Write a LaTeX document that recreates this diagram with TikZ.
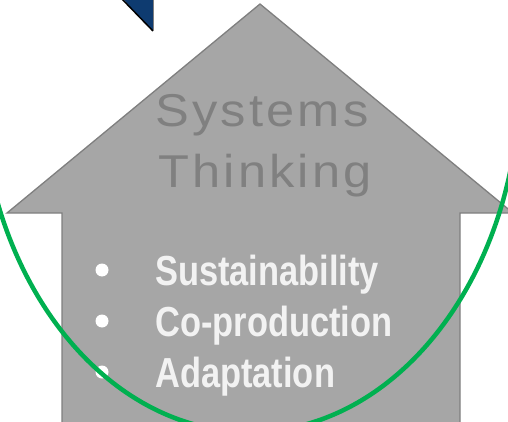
\documentclass[tikz,border=0pt]{standalone}
\usepackage{fontspec}
\setmainfont{Liberation Sans}
\newfontfamily\titlefont[LetterSpace=7,FakeStretch=1.1]{Liberation Sans}
\newfontfamily\bulfont[FakeStretch=0.82]{Liberation Sans}
\definecolor{housefill}{HTML}{A6A6A6}
\definecolor{houseline}{HTML}{7F7F7F}
\definecolor{titlegray}{HTML}{808080}
\definecolor{bultext}{HTML}{F2F2F2}
\definecolor{loopgreen}{HTML}{00B050}
\definecolor{navytri}{HTML}{0E3B70}
\tikzset{
  house/.style={fill=housefill,draw=houseline,line width=1.3pt,line join=miter},
  titletext/.style={text=titlegray,inner sep=0pt,font=\titlefont\fontsize{46}{54}\selectfont},
  bultextstyle/.style={text=bultext,inner sep=0pt,anchor=base west,font=\bulfont\bfseries\fontsize{42}{50}\selectfont},
  bulletdot/.style={circle,fill=white,minimum size=13pt,inner sep=0pt},
  loop/.style={draw=loopgreen,line width=4.5pt}
}
\begin{document}
\begin{tikzpicture}[x=1pt,y=-1pt]
\useasboundingbox (0,0) rectangle (508,422);
\clip (0,0) rectangle (508,422);
% blue triangle
\fill[navytri] (122,-2) -- (153,-2) -- (153,31) -- cycle;
\draw[black,line width=1.5pt] (121,-2) -- (153,31);
\draw[houseline,line width=0.8pt] (153.5,-2) -- (153.5,31);
% house
\draw[house] (260,4) -- (513,213) -- (460,213) -- (460,430) -- (62,430) -- (62,213) -- (7,213) -- cycle;
% title
\node[titletext,anchor=base] (t1) at (262,127) {Systems};
\node[titletext,anchor=base] (t2) at (265,187) {Thinking};
% bullets
\node[bulletdot] (b1) at (102,270) {};
\node[bulletdot] (b2) at (102,321) {};
\node[bulletdot] (b3) at (102,372) {};
\node[bultextstyle] (s1) at (155,285) {Sustainability};
\node[bultextstyle] (s2) at (155,336) {Co-production};
\node[bultextstyle] (s3) at (155,387) {Adaptation};
% green loop
\draw[loop] (250,76) ellipse [x radius=270pt, y radius=356pt];
\end{tikzpicture}
\end{document}
